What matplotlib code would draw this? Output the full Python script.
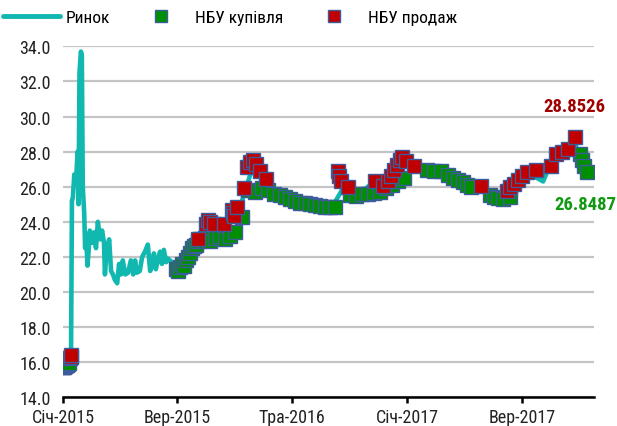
import matplotlib
matplotlib.use("Agg")
import matplotlib.pyplot as plt
from matplotlib import font_manager
from matplotlib.lines import Line2D
import pandas as pd

# ---------------- data ----------------
start = pd.Timestamp("2015-01-01")

mkt_days = [0, 11, 17, 19, 21, 24, 28, 31, 33, 35, 38, 40, 42, 45, 47, 49, 52, 55, 57, 62,
            66, 70, 74, 79, 83, 87, 89, 93, 98, 102, 106, 110, 115, 119, 123, 127, 132, 138, 144, 149,
            153, 157, 163, 168, 174, 180, 185, 189, 193, 197, 202, 206, 210, 214, 219, 223,
            227, 240, 253, 265, 278, 291, 303, 316, 329, 342, 354, 367, 380, 393, 401, 410, 418, 431, 443, 460,
            482, 503, 524, 545, 567, 579, 592, 605, 617, 630, 643, 656, 668, 681, 694, 707, 719, 732, 745, 758,
            779, 800, 821, 842, 864, 881, 898, 915, 927, 940, 953, 966, 982, 999, 1019, 1033, 1046, 1059, 1072, 1084,
            1093, 1101, 1112]
mkt_vals = [15.8, 15.9, 16.2, 25.2, 25.4, 26.7, 26.5, 28.0, 25.0, 32.5, 33.7, 33.5, 26.0, 24.5, 22.5, 23.3, 21.5, 22.6, 23.5, 22.8,
            23.4, 22.5, 24.0, 23.0, 23.5, 22.8, 21.0, 22.5, 23.0, 21.2, 21.0, 20.7, 20.5, 21.6, 21.0, 21.8, 21.0, 21.1, 21.8, 21.0,
            21.8, 21.1, 21.2, 22.0, 22.3, 22.7, 21.2, 21.5, 22.2, 21.3, 21.9, 22.3, 21.6, 22.4, 21.7, 21.9,
            21.8, 21.5, 21.6, 22.0, 22.6, 23.0, 23.4, 23.3, 23.2, 23.5, 24.0, 24.3, 25.2, 26.3, 27.0, 27.3, 26.6, 26.2, 25.9, 25.6,
            25.3, 25.1, 25.0, 24.9, 24.85, 25.2, 25.8, 26.2, 25.8, 25.7, 25.9, 26.2, 26.3, 26.3, 26.6, 27.0, 27.4, 27.2, 27.1, 27.0,
            26.9, 26.85, 26.6, 26.4, 26.2, 26.0, 25.8, 25.6, 25.5, 25.8, 26.1, 26.5, 26.7, 26.6, 26.3, 27.2, 27.8, 27.95, 28.15, 28.7,
            28.0, 27.5, 26.85]

buy_days = [0, 1, 2, 3, 4, 5, 6, 7, 8, 9, 10, 11, 12,
            240, 244, 248, 253, 257, 261, 265, 270, 274, 278, 282, 286,
            291, 301, 312, 323, 333, 344, 354, 365,
            380,
            393, 407, 422, 435, 448,
            460, 471, 482, 492, 503, 514, 524, 535, 545, 556, 567, 577,
            609, 622, 634, 647, 660, 673, 685, 698, 711, 724,
            772, 787, 802, 817, 828, 838, 849, 857, 866,
            906, 915, 923, 934, 949,
            1097, 1101, 1106, 1112]
buy_vals = [15.7, 15.72, 15.74, 15.76, 15.78, 15.8, 15.82, 15.84, 15.86, 15.88, 15.9, 15.93, 15.96,
            21.3, 21.2, 21.4, 21.6, 21.5, 21.8, 22.0, 22.2, 22.5, 22.6, 22.7, 22.9,
            23.0, 23.1, 22.9, 23.1, 23.2, 23.0, 23.2, 23.4,
            24.3,
            25.8, 25.7, 25.9, 25.8, 25.6,
            25.5, 25.4, 25.3, 25.2, 25.1, 25.05, 25.0, 24.95, 24.9, 24.85, 24.85, 24.85,
            25.5, 25.45, 25.6, 25.6, 25.65, 25.7, 25.9, 26.1, 26.3, 26.5,
            26.95, 26.9, 26.9, 26.65, 26.5, 26.4, 26.25, 26.1, 26.0,
            25.55, 25.4, 25.35, 25.3, 25.4,
            27.85, 27.5, 27.2, 26.8487]

sell_days = [15, 17, 18,
             286, 303, 308, 312, 320, 342, 359, 361, 363, 369,
             384, 390, 397, 403, 410, 418, 431,
             584, 586, 590, 605,
             662, 679, 690, 696, 702, 709, 715, 719, 728, 745,
             887,
             942, 949, 957, 966, 974, 985, 1004, 1036, 1046, 1059, 1072, 1086]
sell_vals = [16.25, 16.32, 16.42,
             23.0, 23.9, 24.1, 24.0, 23.9, 23.85, 24.7, 24.5, 24.35, 24.85,
             25.95, 27.1, 27.4, 27.55, 27.3, 26.9, 26.45,
             26.9, 26.6, 26.3, 26.0,
             26.35, 26.05, 26.3, 26.6, 26.95, 27.25, 27.5, 27.7, 27.45, 27.2,
             26.05,
             25.75, 26.0, 26.15, 26.4, 26.6, 26.85, 26.95, 27.2, 27.85, 27.95, 28.15, 28.8526]

tick_dates = ["2015-01-01", "2015-09-01", "2016-05-01", "2017-01-01", "2017-09-01"]
tick_labels = ["Січ-2015", "Вер-2015", "Тра-2016", "Січ-2017", "Вер-2017"]
y_ticks = [14, 16, 18, 20, 22, 24, 26, 28, 30, 32, 34]
series_names = ["Ринок", "НБУ купівля", "НБУ продаж"]

# ---------------- style ----------------
names = {f.name for f in font_manager.fontManager.ttflist}
fam = "DejaVu Sans"
for cand in ["Liberation Sans Narrow", "Roboto Condensed", "Open Sans Condensed", "Liberation Sans"]:
    if cand in names:
        fam = cand
        break
plt.rcParams["font.family"] = [fam, "DejaVu Sans"]

TEAL = "#10B8B0"
GREEN = "#008F00"
RED = "#C00000"
EDGE = "#3C5C9C"

to_dt = lambda d: start + pd.to_timedelta(d, unit="D")
mkt_x = to_dt(mkt_days)
buy_x = to_dt(buy_days)
sell_x = to_dt(sell_days)

fig = plt.figure(figsize=(6.17, 4.27), dpi=100)
ax = fig.add_axes([0.1021, 0.0672, 0.8606, 0.822])

ax.plot(mkt_x, mkt_vals, color=TEAL, lw=3.3, solid_capstyle="round",
        solid_joinstyle="round", zorder=2, label=series_names[0])
ax.plot(buy_x, buy_vals, ls="none", marker="s", ms=10.6, mfc=GREEN, mec=EDGE,
        mew=1.0, zorder=3, label=series_names[1])
ax.plot(sell_x, sell_vals, ls="none", marker="s", ms=10.6, mfc=RED, mec=EDGE,
        mew=1.0, zorder=4, label=series_names[2])

ax.set_ylim(14, 34)
ax.set_xlim(start, pd.Timestamp("2018-02-01"))
ax.set_yticks(y_ticks)
ax.set_yticklabels([f"{v:.1f}" for v in y_ticks])
ax.set_xticks(pd.to_datetime(tick_dates))
ax.set_xticklabels(tick_labels)

ax.grid(axis="y", color="#C4C4C4", lw=1.6, zorder=0)
ax.set_axisbelow(True)
for s in ["top", "right", "left"]:
    ax.spines[s].set_visible(False)
ax.spines["bottom"].set_linewidth(1.8)
ax.spines["bottom"].set_color("black")
ax.spines["bottom"].set_zorder(5)
ax.tick_params(axis="y", length=0, pad=9, labelsize=13, labelcolor="#222222")
ax.tick_params(axis="x", length=4, width=1.8, pad=4, labelsize=13, labelcolor="#222222", direction="out")

# last values
ax.annotate(f"{sell_vals[-1]:.4f}", xy=(sell_x[-1], sell_vals[-1]), xytext=(0, 22),
            textcoords="offset points", ha="center", va="center",
            color="#A00000", fontsize=13.5, fontweight="bold", annotation_clip=False)
ax.annotate(f"{buy_vals[-1]:.4f}", xy=(buy_x[-1], buy_vals[-1]), xytext=(-1, -23),
            textcoords="offset points", ha="center", va="center",
            color="#119911", fontsize=13.5, fontweight="bold", annotation_clip=False)

handles = [Line2D([], [], color=TEAL, lw=3.5, solid_capstyle="round"),
           Line2D([], [], ls="none", marker="s", ms=8, mfc=GREEN, mec=EDGE, mew=1.0),
           Line2D([], [], ls="none", marker="s", ms=8, mfc=RED, mec=EDGE, mew=1.0)]
fig.legend(handles, series_names, loc="center left", bbox_to_anchor=(0.005, 0.957),
           ncol=3, frameon=False, fontsize=12.5, handlelength=3.3, handletextpad=0.3,
           columnspacing=1.3, borderaxespad=0, borderpad=0)

fig.savefig("out.png", dpi=100)
